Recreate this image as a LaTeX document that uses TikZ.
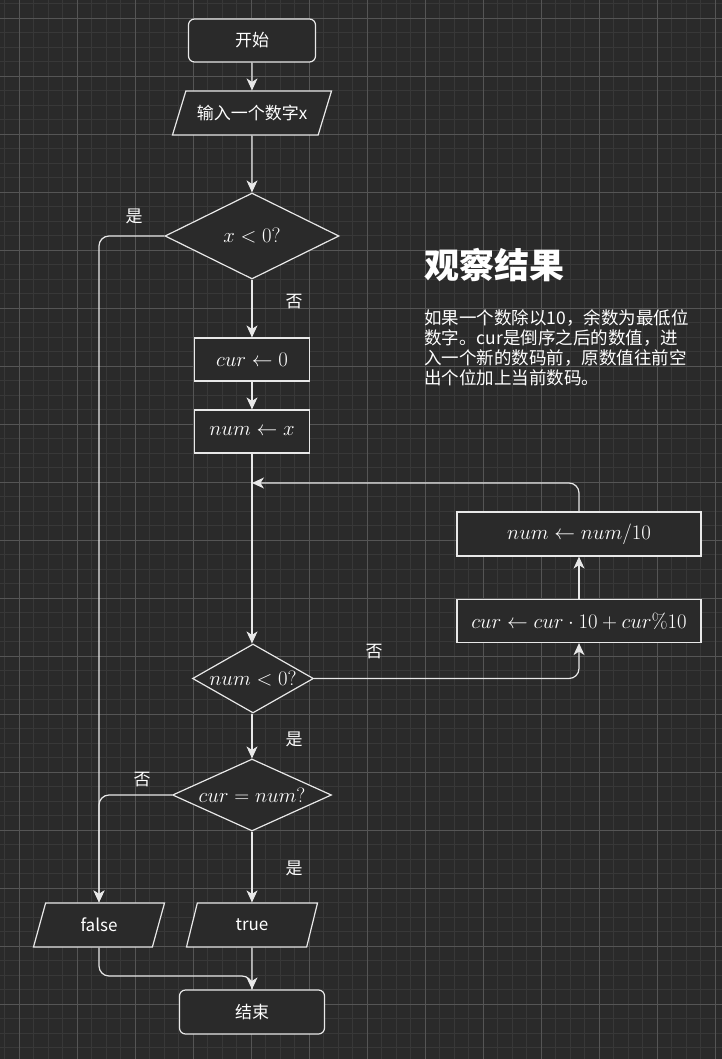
\documentclass[tikz,border=0pt]{standalone}
\usepackage{fontspec}
\newfontfamily\cjk{Noto Sans CJK SC}
\usetikzlibrary{shapes.geometric,arrows.meta}

\definecolor{bgcol}{HTML}{2A2A2A}
\definecolor{gridminor}{HTML}{383838}
\definecolor{gridmajor}{HTML}{555555}
\definecolor{linecol}{HTML}{E8E8E8}

\newcommand{\dtext}[1]{\makebox[0pt]{#1}}

\tikzset{
    shapebox/.style={draw=linecol, line width=1.2pt, fill=bgcol, text=white, inner sep=2pt},
    cjkfont/.style={font=\cjk\fontsize{17}{20}\selectfont},
    mathfont/.style={font=\fontsize{20.74}{24}\selectfont},
    startstop/.style={shapebox, cjkfont, rounded corners=6pt, minimum height=43},
    process/.style={shapebox, mathfont, rectangle, minimum height=43},
    io/.style={shapebox, cjkfont, trapezium, trapezium left angle=56, trapezium right angle=124,
        trapezium stretches body, minimum height=44},
    decision/.style={shapebox, mathfont, diamond, inner sep=0pt},
    note/.style={text=white, cjkfont, inner sep=0pt},
    line/.style={draw=linecol, line width=1.2pt, rounded corners=10pt},
    arrow/.style={line, -{Stealth[length=12pt,width=11pt,inset=3.5pt]}},
}

\begin{document}
\begin{tikzpicture}[x=1pt,y=-1pt]
    \useasboundingbox (0,0) rectangle (722,1059);
    % background grid
    \fill[bgcol] (0,0) rectangle (722,1059);
    \foreach \i in {0,...,49} \draw[gridminor, line width=1pt] ({4.8+14.5*\i},0) -- ++(0,1059);
    \foreach \j in {0,...,72} \draw[gridminor, line width=1pt] (0,{3.8+14.5*\j}) -- ++(722,0);
    \foreach \i in {0,...,12} \draw[gridmajor, line width=1pt] ({19.3+58*\i},0) -- ++(0,1059);
    \foreach \j in {0,...,17} \draw[gridmajor, line width=1pt] (0,{18.3+58*\j}) -- ++(722,0);

    % main column
    \node[startstop, minimum width=127] (start) at (252,40.5) {开始};
    \node[io, minimum width=159] (input) at (252,113) {输入一个数字x};
    \node[decision, minimum width=174, minimum height=86] (xneg) at (252,236) {\dtext{$x<0?$}};
    \node[process, minimum width=115] (cur0) at (252,359.5) {$cur \leftarrow 0$};
    \node[process, minimum width=115] (numx) at (252,431.5) {$num \leftarrow x$};
    \node[decision, minimum width=121, minimum height=69] (numneg) at (253,678.5) {\dtext{$num<0?$}};
    \node[decision, minimum width=159, minimum height=72] (equal) at (252,795) {\dtext{$cur=num?$}};
    \node[io, minimum width=131] (false) at (99,925) {false};
    \node[io, minimum width=131] (true) at (252,925) {true};
    \node[startstop, minimum width=145, minimum height=44] (end) at (252,1012) {结束};

    % loop body
    \node[process, minimum width=244, minimum height=44] (numdiv) at (579,534) {$num \leftarrow num/10$};
    \node[process, minimum width=244] (curupd) at (579,621) {$cur \leftarrow cur \cdot 10 + cur\%10$};

    \coordinate (back) at (252,483);
    \coordinate (merge) at (252,976);

    % connectors
    \draw[arrow] (start) -- (input);
    \draw[arrow] (input) -- (xneg);
    \draw[arrow] (xneg) -- (cur0);
    \draw[arrow] (xneg.west) -| (false.north);
    \draw[arrow] (cur0) -- (numx);
    \draw[arrow] (numx.south) -- (numx.south |- numneg.north);
    \draw[arrow] (numneg.east) -| (curupd.south);
    \draw[arrow] (curupd) -- (numdiv);
    \draw[arrow] (numdiv.north) |- (back);
    \draw[arrow] (numneg.south -| equal.north) -- (equal.north);
    \draw[arrow] (equal.west) -| (false.north);
    \draw[arrow] (equal) -- (true);
    \draw[arrow] (true) -- (end);
    \draw[line] (false.south) |- (merge) -- (end.north);

    % branch labels
    \node[note] (l1) at (134,216) {是};
    \node[note] (l2) at (294,302) {否};
    \node[note] (l3) at (374,652) {否};
    \node[note] (l4) at (294,739) {是};
    \node[note] (l5) at (142,780) {否};
    \node[note] (l6) at (294,868) {是};

    % notes
    \node[text=white, inner sep=0pt, anchor=west, font=\cjk\bfseries\fontsize{35}{40}\selectfont] (title) at (424,265) {观察结果};
    \node[note, anchor=west, align=left, font=\cjk\fontsize{17.5}{20}\selectfont] (body) at (424,348)
        {如果一个数除以10，余数为最低位\\数字。cur是倒序之后的数值，进\\入一个新的数码前，原数值往前空\\出个位加上当前数码。};
\end{tikzpicture}
\end{document}
